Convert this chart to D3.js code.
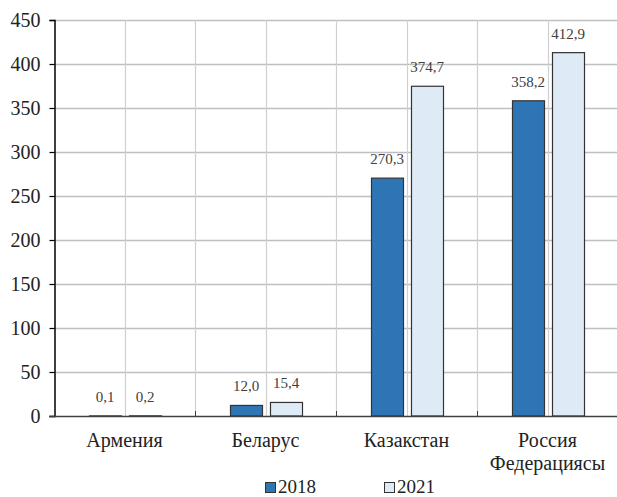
<!DOCTYPE html>
<html>
<head>
<meta charset="utf-8">
<script src="https://cdn.jsdelivr.net/npm/d3@7"></script>
<style>
  body { margin: 0; background: #fff; }
</style>
</head>
<body>
<svg id="chart"></svg>
<script>
// Chart data
const categories = [["Армения"], ["Беларус"], ["Казакстан"], ["Россия", "Федерациясы"]];
const years = ["2018", "2021"];
const values2018 = [0.1, 12.0, 270.3, 358.2];
const values2021 = [0.2, 15.4, 374.7, 412.9];
const yTicks = [0, 50, 100, 150, 200, 250, 300, 350, 400, 450];
const colors = { "2018": "#2E75B6", "2021": "#DEEBF7" };

const font = size => `font-family:'Liberation Serif'; font-size:${size}px`;
const width = 617, height = 497;
const margin = { top: 20, right: -1, bottom: 81, left: 54 };

const svg = d3.select("#chart")
    .attr("width", width)
    .attr("height", height);

const catNames = categories.map(c => c.join(" "));

// Scales
const x0 = d3.scaleBand()
    .domain(catNames)
    .range([margin.left, width - margin.right]);

const y = d3.scaleLinear()
    .domain([0, 450])
    .range([height - margin.bottom, margin.top]);

const fmt = v => d3.format(".1f")(v).replace(".", ",");

// Horizontal gridlines
svg.append("g")
    .selectAll("line")
    .data(yTicks.filter(t => t > 0))
    .join("line")
    .attr("x1", margin.left)
    .attr("x2", width)
    .attr("y1", d => Math.round(y(d)) + 0.5)
    .attr("y2", d => Math.round(y(d)) + 0.5)
    .attr("stroke", "#bfbfbf")
    .attr("stroke-width", 1.5);

// Vertical gridlines: category centres and boundaries
const vLines = [];
catNames.forEach((c, i) => {
    vLines.push(x0(c) + x0.bandwidth() / 2);
    if (i > 0) vLines.push(x0(c));
});
svg.append("g")
    .selectAll("line")
    .data(vLines)
    .join("line")
    .attr("x1", d => Math.round(d) + 0.5)
    .attr("x2", d => Math.round(d) + 0.5)
    .attr("y1", y(450))
    .attr("y2", y(0))
    .attr("stroke", "#d0d0d0")
    .attr("stroke-width", 1.2);

// Small inside ticks at category boundaries
svg.append("g")
    .selectAll("line")
    .data(catNames.slice(1))
    .join("line")
    .attr("x1", d => Math.round(x0(d)) + 0.5)
    .attr("x2", d => Math.round(x0(d)) + 0.5)
    .attr("y1", y(0) - 5)
    .attr("y2", y(0))
    .attr("stroke", "#404040");

// Bars
const x1 = d3.scaleBand()
    .domain(years)
    .range([-36, 36])
    .paddingInner(0.2);

const barData = [];
catNames.forEach((c, i) => {
    barData.push({ cat: c, year: "2018", value: values2018[i] });
    barData.push({ cat: c, year: "2021", value: values2021[i] });
});

const bars = svg.append("g")
    .selectAll("g")
    .data(barData)
    .join("g")
    .attr("transform", d => `translate(${Math.round(x0(d.cat) + x0.bandwidth() / 2)},0)`);

bars.append("rect")
    .attr("x", d => x1(d.year) + 0.5)
    .attr("y", d => y(d.value))
    .attr("width", x1.bandwidth())
    .attr("height", d => y(0) - y(d.value))
    .attr("fill", d => colors[d.year])
    .attr("stroke", "#333")
    .attr("stroke-width", 1.2);

bars.append("text")
    .attr("x", d => x1(d.year) + x1.bandwidth() / 2)
    .attr("y", d => y(d.value) - 14)
    .attr("text-anchor", "middle")
    .attr("style", font(15))
    .attr("fill", "#404040")
    .text(d => fmt(d.value));

// Y axis
const yAxis = svg.append("g")
    .attr("transform", `translate(${margin.left + 0.5},0)`)
    .call(d3.axisLeft(y).tickValues(yTicks).tickSize(5).tickPadding(9));
yAxis.attr("font-family", null).attr("font-size", null);
yAxis.select(".domain").attr("stroke", "#000").attr("stroke-width", 1.5);
yAxis.selectAll(".tick line").attr("stroke", "#000").attr("stroke-width", 1.2);
yAxis.selectAll(".tick text")
    .attr("style", font(20))
    .attr("fill", "#222");

// X axis line
svg.append("line")
    .attr("x1", margin.left - 5)
    .attr("x2", width)
    .attr("y1", y(0) + 0.5)
    .attr("y2", y(0) + 0.5)
    .attr("stroke", "#404040")
    .attr("stroke-width", 1.5);

// Category labels
const catLabels = svg.append("g")
    .selectAll("text")
    .data(categories)
    .join("text")
    .attr("x", (d, i) => x0(catNames[i]) + x0.bandwidth() / 2)
    .attr("y", 447)
    .attr("text-anchor", "middle")
    .attr("style", font(20))
    .attr("fill", "#222");
catLabels.selectAll("tspan")
    .data(d => d)
    .join("tspan")
    .attr("x", function () { return d3.select(this.parentNode).attr("x"); })
    .attr("dy", (d, i) => i === 0 ? 0 : 23)
    .text(d => d);

// Legend
const legendX = [265, 384];
const legend = svg.append("g")
    .selectAll("g")
    .data(years)
    .join("g")
    .attr("transform", (d, i) => `translate(${legendX[i]},482)`);
legend.append("rect")
    .attr("x", 0.5)
    .attr("y", 0.5)
    .attr("width", 10)
    .attr("height", 10)
    .attr("fill", d => colors[d])
    .attr("stroke", "#333");
legend.append("text")
    .attr("x", 13)
    .attr("y", 11)
    .attr("style", font(19))
    .attr("fill", "#222")
    .text(d => d);
</script>
</body>
</html>
